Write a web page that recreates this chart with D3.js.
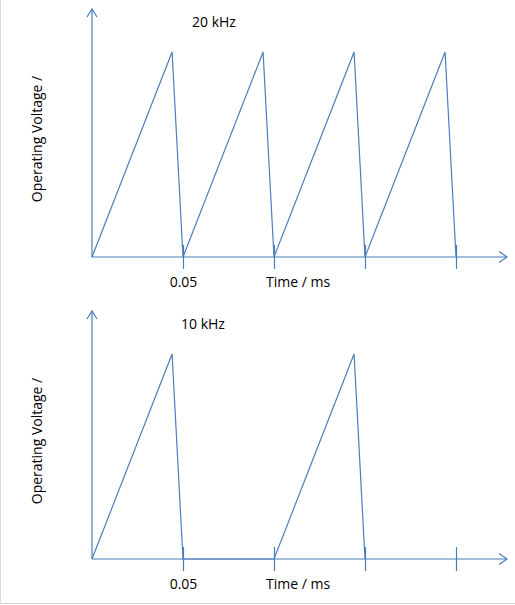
<!DOCTYPE html>
<html>
<head>
<meta charset="utf-8">
<script src="https://cdn.jsdelivr.net/npm/d3@7"></script>
<style>
  html, body { margin: 0; padding: 0; background: #fff; }
  svg { display: block; }
  text { font-family: "Open Sans", sans-serif; font-size: 14px; fill: #000; }
</style>
</head>
<body>
<div id="chart"></div>
<script>
// time in ms, voltage in relative units
const pulses20 = [
  [0, 0], [0.044, 1], [0.05, 0],
  [0.094, 1], [0.1, 0],
  [0.144, 1], [0.15, 0],
  [0.194, 1], [0.2, 0],
];
const pulses10 = [
  [0, 0], [0.044, 1], [0.05, 0],
  [0.1, 0], [0.144, 1], [0.15, 0],
];
const tickValues = [0.05, 0.1, 0.15, 0.2];
const tickLabels = ['0.05', '', '', ''];
const titles = ['20 kHz', '10 kHz'];

const blue = '#4a7ebb';
const width = 515, height = 605;

const svg = d3.select('#chart').append('svg')
  .attr('width', width)
  .attr('height', height);

// frame (light grey border left and bottom like the screenshot)
svg.append('line').attr('x1', 0.5).attr('x2', 0.5).attr('y1', 0).attr('y2', 604)
  .attr('stroke', '#d9d9d9');
svg.append('line').attr('x1', 0).attr('x2', width).attr('y1', 603.5).attr('y2', 603.5)
  .attr('stroke', '#d9d9d9');

const x = d3.scaleLinear().domain([0, 0.2]).range([92, 456]);
const y = d3.scaleLinear().domain([0, 1.21]).range([257, 9]);

const panel = (selection, data, title, titleX) => {
  const line = d3.line()
    .x((d) => x(d[0]))
    .y((d) => y(d[1]));

  // y axis with open arrow head
  selection.append('line')
    .attr('x1', x(0)).attr('x2', x(0))
    .attr('y1', y(0)).attr('y2', y(1.21))
    .attr('stroke', blue).attr('stroke-width', 1.2);
  selection.append('path')
    .attr('d', `M${x(0) - 5},${y(1.21) + 8}L${x(0)},${y(1.21)}L${x(0) + 5},${y(1.21) + 8}`)
    .attr('fill', 'none').attr('stroke', blue).attr('stroke-width', 1.2);

  // x axis with open arrow head
  const xEnd = 507;
  selection.append('line')
    .attr('x1', x(0)).attr('x2', xEnd)
    .attr('y1', y(0)).attr('y2', y(0))
    .attr('stroke', blue).attr('stroke-width', 1.2);
  selection.append('path')
    .attr('d', `M${xEnd - 8},${y(0) - 5.5}L${xEnd},${y(0)}L${xEnd - 8},${y(0) + 5.5}`)
    .attr('fill', 'none').attr('stroke', blue).attr('stroke-width', 1.2);

  // ticks crossing the axis
  const axis = selection.append('g')
    .attr('transform', `translate(0,${y(0)})`)
    .call(d3.axisBottom(x)
      .tickValues(tickValues)
      .tickSize(12)
      .tickPadding(8)
      .tickFormat((d, i) => tickLabels[i]));
  axis.select('.domain').remove();
  axis.selectAll('.tick line')
    .attr('y1', -12)
    .attr('stroke', blue)
    .attr('stroke-width', 1.2);
  axis.selectAll('.tick text')
    .attr('font-family', null)
    .attr('font-size', null)
    .attr('fill', '#000');

  // signal
  selection.append('path')
    .datum(data)
    .attr('d', line)
    .attr('fill', 'none')
    .attr('stroke', blue)
    .attr('stroke-width', 1.2)
    .attr('stroke-linejoin', 'miter');

  // titles
  selection.append('text')
    .attr('x', titleX)
    .attr('y', 27)
    .text(title);

  selection.append('text')
    .attr('x', 266)
    .attr('y', 287)
    .text('Time / ms');

  selection.append('text')
    .attr('transform', `translate(42,${y(0) - 118}) rotate(-90)`)
    .attr('text-anchor', 'middle')
    .text('Operating Voltage /');
};

svg.append('g')
  .call(panel, pulses20, titles[0], 192);

svg.append('g')
  .attr('transform', 'translate(0,302)')
  .call(panel, pulses10, titles[1], 181);
</script>
</body>
</html>
